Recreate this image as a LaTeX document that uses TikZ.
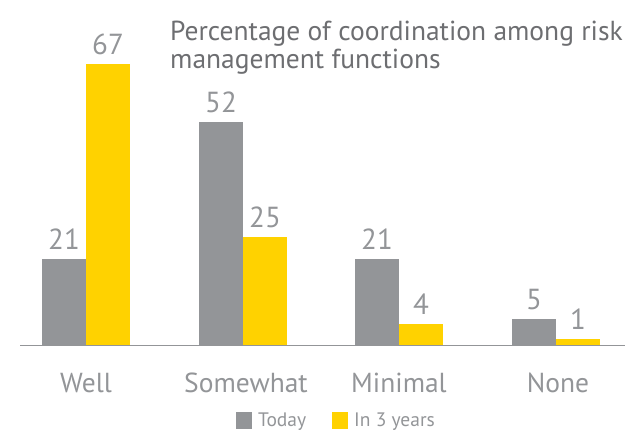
\documentclass[tikz,border=0pt]{standalone}
\usepackage{fontspec}
\setmainfont{PT Sans}
\definecolor{barGray}{HTML}{939598}
\definecolor{barYellow}{HTML}{FFD200}
\definecolor{titleGray}{HTML}{6D6E71}
\definecolor{textGray}{HTML}{939598}
\begin{document}
\begin{tikzpicture}[x=1pt,y=-1pt,
  bar/.style={inner sep=0pt, outer sep=0pt, minimum width=44pt, anchor=south west},
  today/.style={bar, fill=barGray},
  later/.style={bar, fill=barYellow},
  val/.style={text=textGray, font=\fontsize{29}{32}\selectfont, inner sep=0pt, anchor=base},
  cat/.style={text=textGray, font=\fontsize{27.5}{30}\selectfont, inner sep=0pt, anchor=base},
  legbox/.style={inner sep=0pt, outer sep=0pt, minimum width=16pt, minimum height=17pt, anchor=north west},
  legtext/.style={text=textGray, font=\fontsize{19.5}{22}\selectfont, inner sep=0pt, anchor=base west},
  axisline/.style={draw=barGray, line width=1.3pt}
]
\useasboundingbox (0,0) rectangle (629,432);

% title
\node[text=titleGray, font=\fontsize{27.5}{28}\selectfont, align=left, inner sep=0pt, anchor=base west] (title) at (170,68)
  {Percentage of coordination among risk\\management functions};

% bars
\node[today, minimum height=86pt]  (wellT) at (42,345) {};
\node[later, minimum height=281pt] (wellL) at (86,345) {};
\node[today, minimum height=223pt] (someT) at (199,345) {};
\node[later, minimum height=108pt] (someL) at (243,345) {};
\node[today, minimum height=86pt]  (miniT) at (355,345) {};
\node[later, minimum height=21pt]  (miniL) at (399,345) {};
\node[today, minimum height=26pt]  (noneT) at (512,345) {};
\node[later, minimum height=6pt]   (noneL) at (556,345) {};

% axis
\coordinate (axL) at (20,345.5);
\coordinate (axR) at (625,345.5);
\draw[axisline] (axL) -- (axR);

% values
\node[val] (vwellT) at ([yshift=10pt]wellT.north) {21};
\node[val] (vwellL) at ([yshift=10pt]wellL.north) {67};
\node[val] (vsomeT) at ([yshift=10pt]someT.north) {52};
\node[val] (vsomeL) at ([yshift=10pt]someL.north) {25};
\node[val] (vminiT) at ([yshift=10pt]miniT.north) {21};
\node[val] (vminiL) at ([yshift=10pt]miniL.north) {4};
\node[val] (vnoneT) at ([yshift=10pt]noneT.north) {5};
\node[val] (vnoneL) at ([yshift=10pt]noneL.north) {1};

% categories
\node[cat] (cWell) at (86,392) {Well};
\node[cat] (cSome) at (246,392) {Somewhat};
\node[cat] (cMini) at (399,392) {Minimal};
\node[cat] (cNone) at (558,392) {None};

% legend
\node[legbox, fill=barGray]   (lgT) at (236,412) {};
\node[legtext] (lgTt) at (258,426.5) {Today};
\node[legbox, fill=barYellow] (lgL) at (332,412) {};
\node[legtext] (lgLt) at (354,426.5) {In 3 years};
\end{tikzpicture}
\end{document}
